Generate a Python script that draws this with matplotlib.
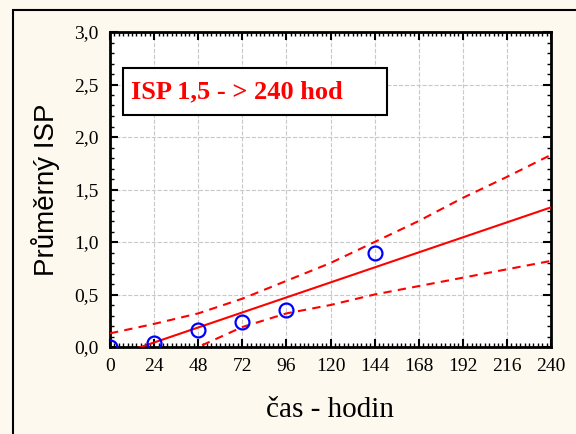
import numpy as np
import matplotlib.pyplot as plt
from matplotlib.patches import Rectangle
from matplotlib.ticker import MultipleLocator

# measured points
cas = [0, 24, 48, 72, 96, 144]
isp = [0.0, 0.04, 0.16, 0.24, 0.35, 0.90]

# fitted line and confidence bands
fit_x = [0, 240]
fit_y = [-0.10, 1.33]
band_x = [0, 24, 48, 72, 96, 120, 144, 168, 192, 216, 240]
band_hi = [0.13, 0.22, 0.32, 0.46, 0.63, 0.80, 1.00, 1.20, 1.42, 1.62, 1.83]
band_lo = [-0.40, -0.17, 0.00, 0.19, 0.32, 0.40, 0.50, 0.58, 0.66, 0.74, 0.82]

xticks = [0, 24, 48, 72, 96, 120, 144, 168, 192, 216, 240]
yticks = [0.0, 0.5, 1.0, 1.5, 2.0, 2.5, 3.0]
ytick_labels = ['0,0', '0,5', '1,0', '1,5', '2,0', '2,5', '3,0']

fig = plt.figure(figsize=(5.76, 4.34), dpi=100)
fig.patch.set_facecolor('#fdf9ee')
fig.patches.append(Rectangle((13 / 576, -0.1), 1.0, 1 - 10 / 434 + 0.1,
                             transform=fig.transFigure, fill=False,
                             edgecolor='black', linewidth=1.5))

ax = fig.add_axes([110 / 576, 1 - 347 / 434, 441 / 576, 315 / 434])
ax.set_facecolor('white')

ax.plot(fit_x, fit_y, color='red', linewidth=1.5, zorder=3)
ax.plot(band_x, band_hi, color='red', linewidth=1.5, linestyle=(0, (4, 3)), zorder=3)
ax.plot(band_x, band_lo, color='red', linewidth=1.5, linestyle=(0, (4, 3)), zorder=3)
ax.plot(cas, isp, 'o', markersize=10, markerfacecolor='none',
        markeredgecolor='blue', markeredgewidth=1.6, zorder=4)

ax.set_xlim(0, 240)
ax.set_ylim(0, 3.0)
ax.set_xticks(xticks)
ax.set_xticklabels([str(t) for t in xticks])
ax.set_yticks(yticks)
ax.set_yticklabels(ytick_labels)
ax.xaxis.set_minor_locator(MultipleLocator(2.4))
ax.yaxis.set_minor_locator(MultipleLocator(0.1))

ax.tick_params(which='both', direction='in', top=True, right=True, color='black')
ax.tick_params(which='major', length=6, width=1.5, labelsize=14, pad=8)
ax.tick_params(which='minor', length=3, width=1.0)
for lab in ax.get_xticklabels() + ax.get_yticklabels():
    lab.set_fontfamily('Liberation Serif')
for sp in ax.spines.values():
    sp.set_linewidth(2)

ax.grid(True, which='major', color='#c8c8c8', linestyle='--', linewidth=0.8)
ax.set_axisbelow(True)

ax.set_ylabel('Průměrný ISP', fontfamily='Liberation Sans', fontsize=20, labelpad=10)
ax.set_xlabel('čas - hodin', fontfamily='Liberation Serif', fontsize=21, labelpad=16)

# label box
ax.add_patch(Rectangle((0.03, 0.737), 0.598, 0.149, transform=ax.transAxes,
                       facecolor='white', edgecolor='black', linewidth=1.5, zorder=5))
ax.text(0.048, 0.81, 'ISP 1,5 - > 240 hod', transform=ax.transAxes,
        color='red', fontsize=19, fontweight='bold', fontfamily='Liberation Serif',
        va='center', ha='left', zorder=6)

fig.savefig('out.png', dpi=100, facecolor=fig.get_facecolor())
